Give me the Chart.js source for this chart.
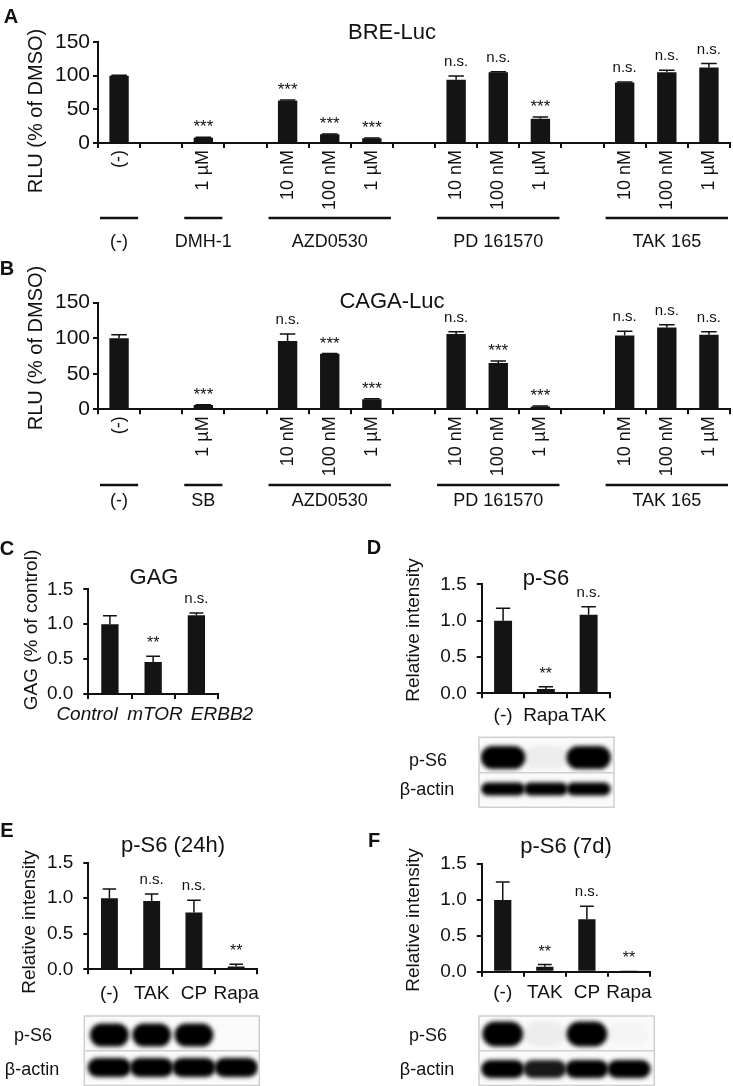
<!DOCTYPE html>
<html>
<head>
<meta charset="utf-8">
<script src="https://cdn.jsdelivr.net/npm/chart.js@4.4.1/dist/chart.umd.min.js"></script>
<style>
  html, body { margin: 0; padding: 0; background: #fff; }
  #fig { position: relative; width: 733px; height: 1086px; overflow: hidden;
         font-family: "Liberation Sans", Arial, sans-serif; color: #111; }
  #fig canvas { position: absolute; }
  .txt { position: absolute; white-space: nowrap; line-height: 1; transform: translate(-50%, -50%); }
  .rot { transform: translate(-50%, -50%) rotate(-90deg); }
  .letra { font-weight: bold; font-size: 20px; }
  .titulo { font-size: 22px; }
  .ylab { font-size: 19px; }
  .blot { font-size: 18px; }
  .cat { font-size: 19px; font-style: italic; }
</style>
</head>
<body>
<div id="fig">
  <canvas id="grafA" width="733" height="255" style="left:0;top:0"></canvas>
  <canvas id="grafB" width="733" height="265" style="left:0;top:255px"></canvas>
  <canvas id="grafC" width="250" height="185" style="left:0;top:540px"></canvas>
  <canvas id="grafD" width="300" height="280" style="left:360px;top:540px"></canvas>
  <canvas id="grafE" width="300" height="266" style="left:0;top:820px"></canvas>
  <canvas id="grafF" width="373" height="266" style="left:360px;top:820px"></canvas>

  <div class="txt letra" style="left:11px;top:16px">A</div>
  <div class="txt letra" style="left:7px;top:268px">B</div>
  <div class="txt letra" style="left:7px;top:548px">C</div>
  <div class="txt letra" style="left:374px;top:547px">D</div>
  <div class="txt letra" style="left:7px;top:830px">E</div>
  <div class="txt letra" style="left:374px;top:840px">F</div>

  <div class="txt titulo" style="left:392px;top:32px">BRE-Luc</div>
  <div class="txt titulo" style="left:392px;top:301px">CAGA-Luc</div>
  <div class="txt titulo" style="left:154px;top:577px">GAG</div>
  <div class="txt titulo" style="left:546px;top:578px">p-S6</div>
  <div class="txt titulo" style="left:173px;top:845px">p-S6 (24h)</div>
  <div class="txt titulo" style="left:566px;top:846px">p-S6 (7d)</div>

  <div class="txt rot ylab" style="left:35px;top:111px;font-size:20px">RLU (% of DMSO)</div>
  <div class="txt rot ylab" style="left:35px;top:348px;font-size:20px">RLU (% of DMSO)</div>
  <div class="txt rot ylab" style="left:30px;top:630px">GAG (% of control)</div>
  <div class="txt rot ylab" style="left:412px;top:630px">Relative intensity</div>
  <div class="txt rot ylab" style="left:28px;top:922px">Relative intensity</div>
  <div class="txt rot ylab" style="left:412px;top:920px">Relative intensity</div>

  <div class="txt cat" style="left:87px;top:713px">Control</div>
  <div class="txt cat" style="left:155px;top:713px">mTOR</div>
  <div class="txt cat" style="left:222px;top:713px">ERBB2</div>

  <div class="txt blot" style="left:428px;top:760px">p-S6</div>
  <div class="txt blot" style="left:427px;top:789px">β-actin</div>
  <div class="txt blot" style="left:33px;top:1035px">p-S6</div>
  <div class="txt blot" style="left:32px;top:1069px">β-actin</div>
  <div class="txt blot" style="left:428px;top:1035px">p-S6</div>
  <div class="txt blot" style="left:427px;top:1069px">β-actin</div>
</div>

<script>
// ---- datos A / B (luciferasa) ----
const dosisAB = ["(-)", "", "1 µM", "", "10 nM", "100 nM", "1 µM", "", "10 nM", "100 nM", "1 µM", "", "10 nM", "100 nM", "1 µM"];
const breLuc = [100, null, 8, null, 63, 13, 7, null, 94, 105, 36, null, 90, 105, 112];
const breLucErr = [0.5, null, 0.5, null, 1, 0.5, 0.5, null, 5.5, 1, 2.5, null, 0.5, 3, 6];
const breLucSig = ["", "", "***", "", "***", "***", "***", "", "n.s.", "n.s.", "***", "", "n.s.", "n.s.", "n.s."];
const cagaLuc = [100, null, 6, null, 96, 78, 14, null, 106, 65, 4, null, 104, 115, 105];
const cagaLucErr = [5, null, 0.5, null, 10, 0.5, 1, null, 3, 3, 0.5, null, 6, 4, 4];
const cagaLucSig = ["", "", "***", "", "n.s.", "***", "***", "", "n.s.", "***", "***", "", "n.s.", "n.s.", "n.s."];
const gruposA = ["(-)", "DMH-1", "AZD0530", "PD 161570", "TAK 165"];
const gruposB = ["(-)", "SB", "AZD0530", "PD 161570", "TAK 165"];
const gruposDesde = [0, 2, 4, 8, 12];
const gruposHasta = [0, 2, 6, 10, 14];

// ---- datos C (GAG) ----
const gagEtiquetas = ["Control", "mTOR", "ERBB2"];
const gagValores = [1.0, 0.46, 1.13];
const gagErr = [0.12, 0.08, 0.03];
const gagSig = ["", "**", "n.s."];

// ---- datos D (p-S6) ----
const ps6Etiquetas = ["(-)", "Rapa", "TAK"];
const ps6Valores = [1.0, 0.06, 1.08];
const ps6Err = [0.17, 0.03, 0.11];
const ps6Sig = ["", "**", "n.s."];
const ps6BandaD = [1, 0.05, 1];
const actinaD = [1, 1, 1];

// ---- datos E (p-S6 24h) ----
const tratEtiquetas = ["(-)", "TAK", "CP", "Rapa"];
const ps624Valores = [1.0, 0.96, 0.80, 0.04];
const ps624Err = [0.13, 0.10, 0.17, 0.03];
const ps624Sig = ["", "n.s.", "n.s.", "**"];
const ps6BandaE = [1, 1, 1, 0];
const actinaE = [1, 1, 1, 1];

// ---- datos F (p-S6 7d) ----
const ps67dValores = [1.0, 0.07, 0.73, 0.01];
const ps67dErr = [0.25, 0.03, 0.18, 0];
const ps67dSig = ["", "**", "n.s.", "**"];
const ps6BandaF = [1, 0.05, 1, 0.02];
const actinaF = [1, 0.9, 1, 1];

const FUENTE = '"Liberation Sans", Arial, sans-serif';
Chart.defaults.font.family = FUENTE;
Chart.defaults.color = "#111";

const barrasError = {
    id: "barrasError",
    afterDatasetsDraw(chart, args, opts) {
        if (!opts.errores) return;
        const y = chart.scales.y;
        const ctx = chart.ctx;
        const valores = chart.data.datasets[0].data;
        ctx.save();
        ctx.strokeStyle = "#111";
        ctx.lineWidth = 1.5;
        chart.getDatasetMeta(0).data.forEach((barra, i) => {
            const err = opts.errores[i];
            if (valores[i] == null || !err) return;
            const yTop = y.getPixelForValue(valores[i] + err);
            const medio = barra.width * 0.4;
            ctx.beginPath();
            ctx.moveTo(barra.x, barra.y);
            ctx.lineTo(barra.x, yTop);
            ctx.moveTo(barra.x - medio, yTop);
            ctx.lineTo(barra.x + medio, yTop);
            ctx.stroke();
        });
        ctx.restore();
    }
};

const etiquetasSig = {
    id: "etiquetasSig",
    afterDatasetsDraw(chart, args, opts) {
        if (!opts.textos) return;
        const x = chart.scales.x, y = chart.scales.y;
        const ctx = chart.ctx;
        const valores = chart.data.datasets[0].data;
        ctx.save();
        ctx.fillStyle = "#111";
        ctx.textAlign = "center";
        ctx.textBaseline = "alphabetic";
        opts.textos.forEach((t, i) => {
            if (!t) return;
            const tope = valores[i] + (opts.errores[i] || 0);
            const esNs = t === "n.s.";
            ctx.font = (esNs ? 15 : opts.tamAst) + "px " + FUENTE;
            ctx.fillText(t, x.getPixelForValue(i), y.getPixelForValue(tope) - (esNs ? 10 : opts.hueco));
        });
        ctx.restore();
    }
};

const grupos = {
    id: "grupos",
    afterDraw(chart, args, opts) {
        if (!opts.nombres) return;
        const x = chart.scales.x;
        const ctx = chart.ctx;
        const paso = x.getPixelForValue(1) - x.getPixelForValue(0);
        ctx.save();
        ctx.strokeStyle = "#111";
        ctx.fillStyle = "#111";
        ctx.lineWidth = 2.5;
        ctx.font = "18px " + FUENTE;
        ctx.textAlign = "center";
        ctx.textBaseline = "middle";
        opts.nombres.forEach((nombre, g) => {
            const x0 = x.getPixelForValue(opts.desde[g]) - paso / 2 + 2;
            const x1 = x.getPixelForValue(opts.hasta[g]) + paso / 2 - 2;
            ctx.beginPath();
            ctx.moveTo(x0, opts.yLinea);
            ctx.lineTo(x1, opts.yLinea);
            ctx.stroke();
            ctx.fillText(nombre, (x0 + x1) / 2, opts.yTexto);
        });
        ctx.restore();
    }
};

// western blot debajo del eje, una banda por carril
const blot = {
    id: "blot",
    afterDraw(chart, args, opts) {
        if (!opts.filas) return;
        const x = chart.scales.x;
        const ctx = chart.ctx;
        const paso = x.getPixelForValue(1) - x.getPixelForValue(0);
        const izq = x.left - opts.margenIzq;
        const der = x.right + opts.margenDer;
        const alto = opts.abajo - opts.arriba;
        ctx.save();
        ctx.fillStyle = "#fafafa";
        ctx.fillRect(izq, opts.arriba, der - izq, alto);
        ctx.beginPath();
        ctx.rect(izq, opts.arriba, der - izq, alto);
        ctx.clip();
        ctx.filter = "blur(2px)";
        opts.filas.forEach(fila => {
            fila.datos.forEach((intensidad, i) => {
                if (!intensidad) return;
                const cx = x.getPixelForValue(i);
                const w = paso * fila.ancho;
                ctx.fillStyle = "rgba(0,0,0," + intensidad + ")";
                ctx.beginPath();
                ctx.roundRect(cx - w / 2, fila.y - fila.alto / 2, w, fila.alto, fila.alto / 2);
                ctx.fill();
            });
        });
        ctx.restore();
        ctx.save();
        ctx.strokeStyle = "#cfcfcf";
        ctx.lineWidth = 1.5;
        ctx.strokeRect(izq, opts.arriba, der - izq, alto);
        ctx.beginPath();
        ctx.moveTo(izq, opts.separador);
        ctx.lineTo(der, opts.separador);
        ctx.stroke();
        ctx.restore();
    }
};

function crearGrafico(id, cfg) {
    const canvas = document.getElementById(id);
    const altoC = canvas.height;
    const anchoC = canvas.width;
    const eje = { display: true, color: "#111", width: 2 };
    const marcas = { display: true, drawOnChartArea: false, drawTicks: true, tickLength: 5, color: "#111", lineWidth: 2 };

    return new Chart(canvas, {
        type: "bar",
        data: {
            labels: cfg.etiquetas,
            datasets: [{
                data: cfg.valores,
                backgroundColor: "#141414",
                borderWidth: 0,
                categoryPercentage: 1,
                barPercentage: cfg.barPct
            }]
        },
        options: {
            responsive: false,
            animation: false,
            devicePixelRatio: 1,
            layout: { padding: { top: cfg.area.top, right: anchoC - cfg.area.right, left: 0, bottom: 0 } },
            plugins: {
                legend: { display: false },
                tooltip: { enabled: false },
                barrasError: { errores: cfg.errores },
                etiquetasSig: { textos: cfg.sig, errores: cfg.errores, tamAst: cfg.tamAst, hueco: cfg.hueco },
                grupos: cfg.grupos || {},
                blot: cfg.blot || {}
            },
            scales: {
                x: {
                    grid: Object.assign({ offset: true }, marcas),
                    border: eje,
                    ticks: {
                        display: cfg.verX !== false,
                        autoSkip: false,
                        maxRotation: cfg.rotX,
                        minRotation: cfg.rotX,
                        padding: cfg.padX,
                        color: "#111",
                        font: { size: cfg.tamX }
                    },
                    afterFit: s => { s.height = altoC - cfg.area.bottom; }
                },
                y: {
                    min: 0,
                    max: cfg.max,
                    grid: marcas,
                    border: eje,
                    ticks: {
                        stepSize: cfg.paso,
                        padding: cfg.padY,
                        color: "#111",
                        font: { size: cfg.tamY },
                        callback: v => cfg.decimales ? v.toFixed(1) : v
                    },
                    afterFit: s => { s.width = cfg.area.left; }
                }
            }
        },
        plugins: [barrasError, etiquetasSig, grupos, blot]
    });
}

crearGrafico("grafA", {
    etiquetas: dosisAB, valores: breLuc, errores: breLucErr, sig: breLucSig,
    barPct: 0.46, area: { left: 98, top: 42, right: 730, bottom: 143 },
    max: 150, paso: 50, decimales: false, rotX: 90, padX: 2, tamX: 18, padY: 3, tamY: 21,
    tamAst: 17, hueco: 5,
    grupos: { nombres: gruposA, desde: gruposDesde, hasta: gruposHasta, yLinea: 218, yTexto: 242 }
});

crearGrafico("grafB", {
    etiquetas: dosisAB, valores: cagaLuc, errores: cagaLucErr, sig: cagaLucSig,
    barPct: 0.46, area: { left: 98, top: 47.7, right: 730, bottom: 154.3 },
    max: 150, paso: 50, decimales: false, rotX: 90, padX: 2, tamX: 18, padY: 3, tamY: 21,
    tamAst: 17, hueco: 5,
    grupos: { nombres: gruposB, desde: gruposDesde, hasta: gruposHasta, yLinea: 230, yTexto: 246.5 }
});

// las etiquetas de C van en el HTML, desplazadas como en la figura
crearGrafico("grafC", {
    etiquetas: gagEtiquetas, valores: gagValores, errores: gagErr, sig: gagSig,
    barPct: 0.4, area: { left: 88.3, top: 49.3, right: 218, bottom: 154 },
    max: 1.5, paso: 0.5, decimales: true, rotX: 0, padX: 4, tamX: 19, verX: false, padY: 10, tamY: 19,
    tamAst: 16, hueco: 8
});

crearGrafico("grafD", {
    etiquetas: ps6Etiquetas, valores: ps6Valores, errores: ps6Err, sig: ps6Sig,
    barPct: 0.42, area: { left: 121.7, top: 44.3, right: 250, bottom: 153.3 },
    max: 1.5, paso: 0.5, decimales: true, rotX: 0, padX: 6, tamX: 19, padY: 10, tamY: 19,
    tamAst: 16, hueco: 8,
    blot: {
        arriba: 197.3, abajo: 267.3, separador: 232.7, margenIzq: 2.7, margenDer: 4,
        filas: [
            { datos: ps6BandaD, y: 217.5, alto: 23, ancho: 1.04 },
            { datos: actinaD, y: 249, alto: 13, ancho: 1.03 }
        ]
    }
});

crearGrafico("grafE", {
    etiquetas: tratEtiquetas, valores: ps624Valores, errores: ps624Err, sig: ps624Sig,
    barPct: 0.4, area: { left: 88.3, top: 42.7, right: 257.3, bottom: 149.3 },
    max: 1.5, paso: 0.5, decimales: true, rotX: 0, padX: 8, tamX: 19, padY: 10, tamY: 19,
    tamAst: 16, hueco: 8,
    blot: {
        arriba: 196, abajo: 265.5, separador: 230.7, margenIzq: 4, margenDer: 2,
        filas: [
            { datos: ps6BandaE, y: 215, alto: 23, ancho: 0.92 },
            { datos: actinaE, y: 247.5, alto: 19, ancho: 1.03 }
        ]
    }
});

crearGrafico("grafF", {
    etiquetas: tratEtiquetas, valores: ps67dValores, errores: ps67dErr, sig: ps67dSig,
    barPct: 0.41, area: { left: 121.7, top: 44, right: 290, bottom: 151.7 },
    max: 1.5, paso: 0.5, decimales: true, rotX: 0, padX: 5, tamX: 19, padY: 10, tamY: 19,
    tamAst: 16, hueco: 8,
    blot: {
        arriba: 196, abajo: 265.5, separador: 230.7, margenIzq: 2.7, margenDer: 4.3,
        filas: [
            { datos: ps6BandaF, y: 214, alto: 25, ancho: 0.97 },
            { datos: actinaF, y: 249, alto: 18, ancho: 1.03 }
        ]
    }
});
</script>
</body>
</html>
